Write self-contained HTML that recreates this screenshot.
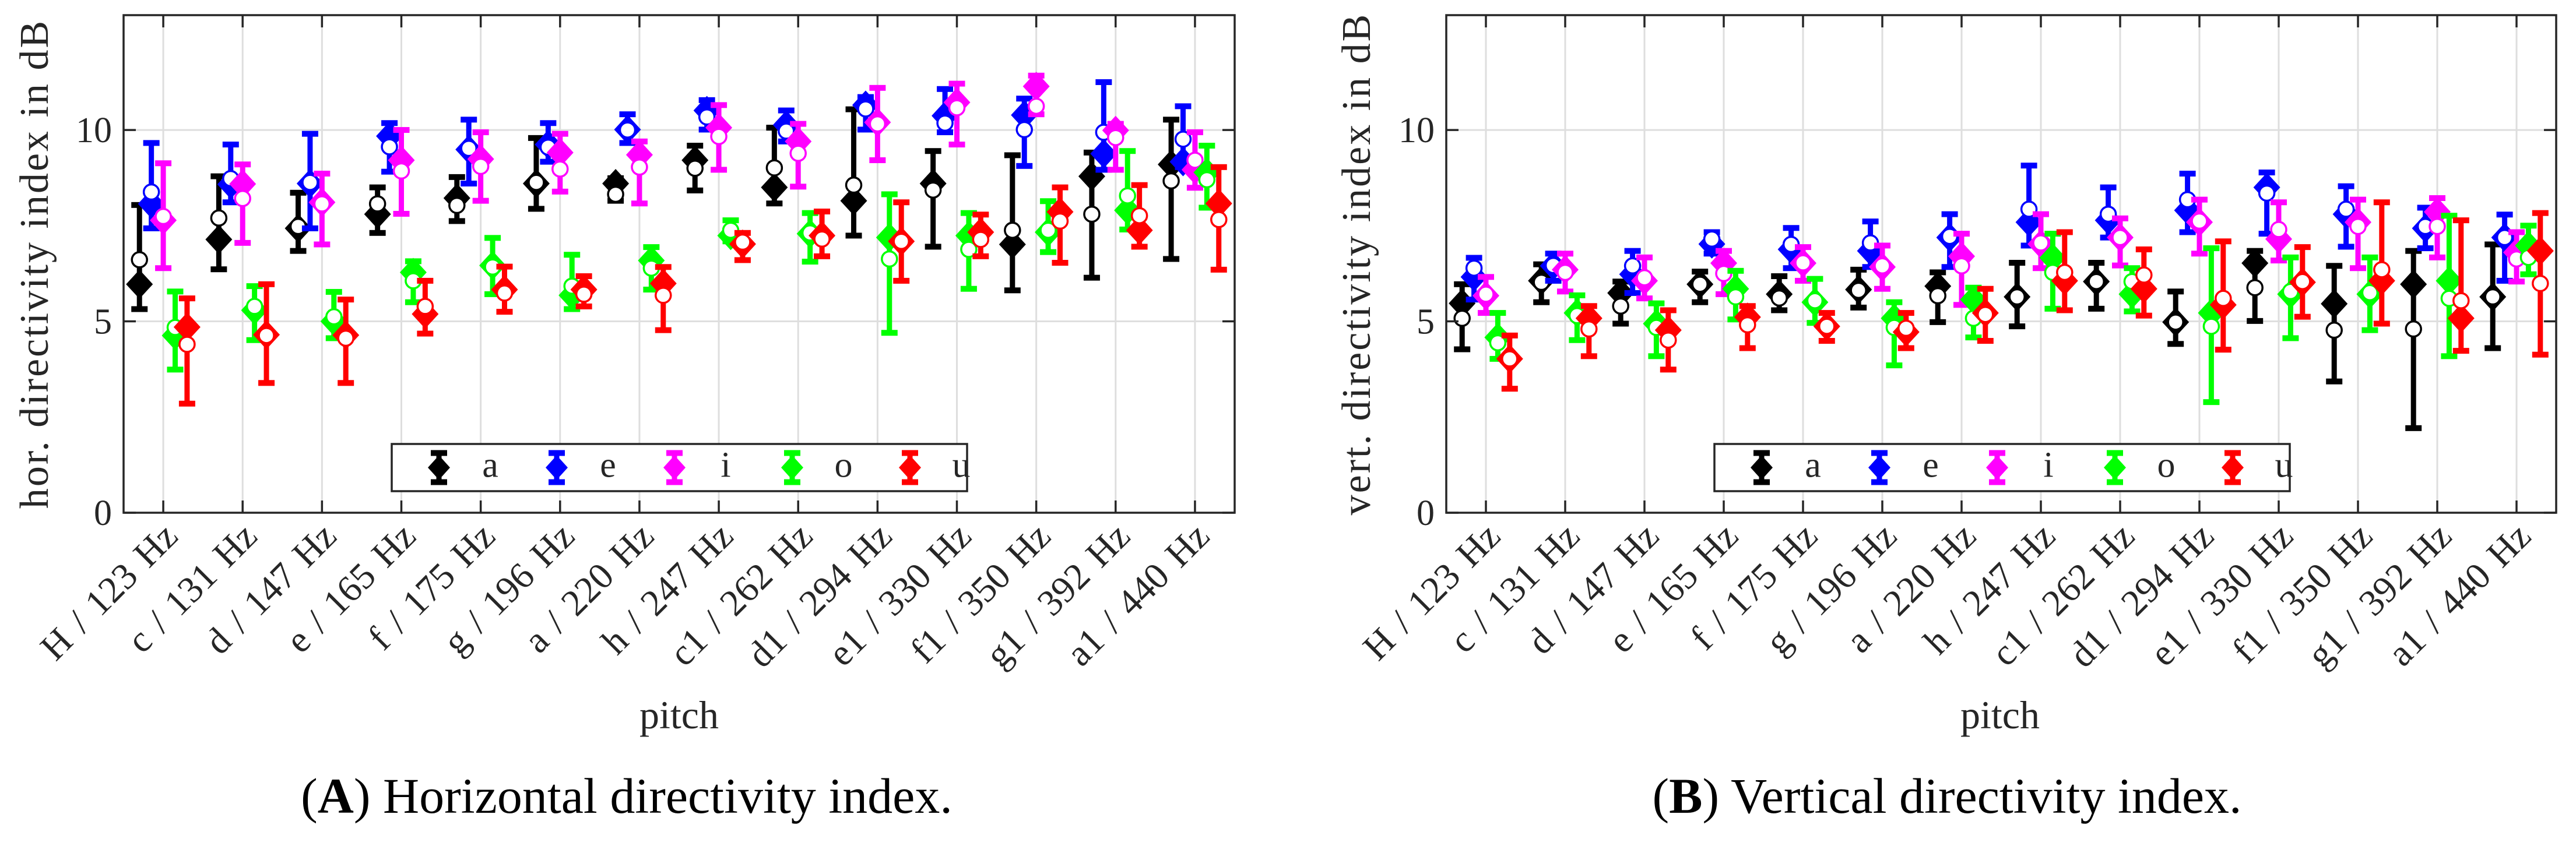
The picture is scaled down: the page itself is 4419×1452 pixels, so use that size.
<!DOCTYPE html>
<html><head><meta charset="utf-8"><style>
html,body{margin:0;padding:0;background:#fff;}
svg{display:block;}
text{font-family:"Liberation Serif",serif;fill:#262626;}
</style></head><body>
<svg id="fig" width="4419" height="1452" viewBox="0 0 4419 1452" xmlns="http://www.w3.org/2000/svg"></svg>
<script>
const categories = ["H / 123 Hz","c / 131 Hz","d / 147 Hz","e / 165 Hz","f / 175 Hz","g / 196 Hz","a / 220 Hz","h / 247 Hz","c1 / 262 Hz","d1 / 294 Hz","e1 / 330 Hz","f1 / 350 Hz","g1 / 392 Hz","a1 / 440 Hz"];
const vowels = ["a","e","i","o","u"];
const yTicks = [0,5,10];

// Horizontal directivity index
const horA_mean = [5.97,7.14,7.43,7.80,8.22,8.60,8.60,9.21,8.50,8.15,8.60,7.01,8.79,9.10];
const horA_circ = [6.61,7.70,7.48,8.07,8.03,8.63,8.32,9.00,9.01,8.56,8.43,7.38,7.80,8.67];
const horA_lo = [5.32,6.36,6.84,7.31,7.62,7.94,8.15,8.42,8.08,7.24,6.95,5.81,6.14,6.63];
const horA_hi = [8.04,8.79,8.36,8.50,8.77,9.79,8.74,9.59,10.06,10.54,9.45,9.34,9.41,10.27];
const horE_mean = [8.07,8.58,8.60,9.84,9.49,9.62,10.01,10.51,10.13,10.65,10.37,10.39,9.38,9.17];
const horE_circ = [8.38,8.73,8.63,9.56,9.52,9.55,10.00,10.34,9.97,10.55,10.18,10.01,9.94,9.76];
const horE_lo = [7.43,8.11,7.43,8.91,8.60,9.17,9.66,10.01,9.70,10.01,9.94,9.06,8.96,9.03];
const horE_hi = [9.66,9.62,9.90,10.18,10.27,10.18,10.41,10.78,10.51,10.86,11.07,10.82,11.25,10.62];
const horI_mean = [7.64,8.59,8.11,9.21,9.24,9.41,9.35,10.06,9.70,10.20,10.72,11.14,9.99,8.96];
const horI_circ = [7.74,8.21,8.07,8.93,9.05,8.98,9.03,9.83,9.39,10.16,10.58,10.62,9.80,9.21];
const horI_lo = [6.39,7.05,7.01,7.81,8.15,8.39,8.08,8.96,8.52,9.21,9.62,10.41,8.96,8.49];
const horI_hi = [9.13,9.10,8.86,10.00,9.94,9.90,9.70,10.65,10.16,11.10,11.21,11.42,10.16,9.94];
const horO_mean = [4.63,5.29,5.00,6.28,6.46,5.68,6.59,7.24,7.29,7.19,7.24,7.33,7.90,8.89];
const horO_circ = [4.84,5.39,5.12,6.06,6.42,5.92,6.39,7.38,7.31,6.63,6.88,7.38,8.28,8.70];
const horO_lo = [3.74,4.51,4.56,5.50,5.71,5.32,5.83,7.09,6.56,4.70,5.85,6.81,7.40,7.97];
const horO_hi = [5.78,5.92,5.77,6.57,7.18,6.74,6.94,7.64,7.83,8.32,7.83,8.14,9.45,9.59];
const horU_mean = [4.85,4.65,4.64,5.19,5.83,5.83,5.99,7.02,7.24,7.09,7.33,7.86,7.38,8.08];
const horU_circ = [4.40,4.63,4.56,5.39,5.74,5.71,5.68,7.07,7.15,7.09,7.14,7.62,7.76,7.66];
const horU_lo = [2.85,3.39,3.39,4.68,5.25,5.39,4.77,6.60,6.70,6.06,6.70,6.53,6.95,6.35];
const horU_hi = [5.60,5.97,5.57,6.06,6.43,6.18,6.42,7.31,7.87,8.11,7.79,8.50,8.56,9.03];

// Vertical directivity index
const verA_mean = [5.47,6.06,5.74,5.97,5.71,5.83,5.92,5.64,6.04,4.98,6.52,5.46,5.97,5.64];
const verA_circ = [5.08,6.02,5.40,5.97,5.61,5.81,5.67,5.64,6.04,4.98,5.88,4.77,4.80,5.64];
const verA_lo = [4.27,5.50,4.94,5.50,5.29,5.36,4.98,4.87,5.33,4.41,5.01,3.43,2.21,4.30];
const verA_hi = [5.97,6.49,6.04,6.30,6.18,6.35,6.28,6.53,6.53,5.78,6.84,6.45,6.84,7.01];
const verE_mean = [6.16,6.45,6.23,7.02,6.88,6.84,7.19,7.59,7.64,7.90,8.50,7.80,7.43,7.19];
const verE_circ = [6.39,6.46,6.45,7.15,7.01,7.05,7.22,7.93,7.80,8.18,8.35,7.93,7.48,7.19];
const verE_lo = [5.57,6.06,5.74,6.77,6.39,6.42,6.42,6.98,7.19,7.33,7.29,6.95,6.91,6.06];
const verE_hi = [6.66,6.77,6.84,7.33,7.44,7.61,7.80,9.07,8.50,8.86,8.89,8.53,7.97,7.79];
const verI_mean = [5.67,6.35,6.06,6.52,6.52,6.42,6.70,7.02,7.19,7.59,7.15,7.59,7.86,6.80];
const verI_circ = [5.71,6.28,6.14,6.25,6.53,6.45,6.45,7.05,7.19,7.62,7.40,7.48,7.48,6.63];
const verI_lo = [5.22,5.78,5.60,5.71,6.06,5.85,5.43,6.39,6.46,6.77,6.59,6.39,6.67,6.04];
const verI_hi = [6.16,6.77,6.67,6.84,6.94,6.98,7.29,7.80,7.69,8.18,8.11,8.18,8.22,7.33];
const verO_mean = [4.58,5.22,4.94,5.85,5.50,5.08,5.57,6.66,5.71,5.22,5.71,5.71,6.06,6.98];
const verO_circ = [4.44,5.15,4.84,5.64,5.54,4.84,5.08,6.28,6.04,4.87,5.78,5.75,5.60,6.67];
const verO_lo = [4.02,4.51,4.09,5.05,4.96,3.85,4.58,5.33,5.26,2.89,4.56,4.77,4.09,6.23];
const verO_hi = [5.22,5.68,5.47,6.32,6.11,5.50,5.88,7.29,6.39,6.91,6.67,6.67,7.76,7.50];
const verU_mean = [4.02,5.08,4.77,5.11,4.87,4.72,5.22,6.06,5.85,5.43,6.02,6.06,5.08,6.84];
const verU_circ = [4.02,4.80,4.51,4.91,4.87,4.82,5.18,6.28,6.21,5.60,6.04,6.35,5.54,5.99];
const verU_lo = [3.24,4.09,3.74,4.30,4.49,4.30,4.49,5.29,5.15,4.26,5.12,4.94,4.23,4.13];
const verU_hi = [4.63,5.40,5.29,5.40,5.22,5.22,5.85,7.33,6.88,7.09,6.94,8.11,7.64,7.83];

const colors = ["#000000","#0000ff","#ff00ff","#00ff00","#ff0000"];
const offsets = [-0.3,-0.15,0,0.15,0.3];
const NS = "http://www.w3.org/2000/svg";
const svg = document.getElementById("fig");

function mk(tag, attrs, parent){
  const e = document.createElementNS(NS, tag);
  for (const k in attrs) e.setAttribute(k, attrs[k]);
  (parent||svg).appendChild(e);
  return e;
}

function drawPanel(cfg){
  const L=cfg.left, R=cfg.right, T=26, B=880;
  const ymax=13;
  const xS = v => L + (v + 0.5) / categories.length * (R - L);
  const yS = v => B - v / ymax * (B - T);
  const g = mk("g", {});
  
  
  categories.forEach((c,i)=>{
    const gl = mk("line",{x1:xS(i),x2:xS(i),y1:T,y2:B,stroke:"#dedede","stroke-width":3},g);
    
    
  });
  yTicks.forEach(t=>{
    if (t===0) return;
    const gl = mk("line",{x1:L,x2:R,y1:yS(t),y2:yS(t),stroke:"#dedede","stroke-width":3},g);
    
    
  });
  const series = cfg.series;
  series.forEach((s, k)=>{
    const sg = mk("g",{},g);
    
    
    const col = colors[k];
    for (let i=0;i<categories.length;i++){
      const x = xS(i + offsets[k]);
      const yl = yS(s.lo[i]), yh = yS(s.hi[i]), ym = yS(s.mean[i]), yc = yS(s.circ[i]);
      const st = mk("line",{x1:x,x2:x,y1:yl,y2:yh,stroke:col,"stroke-width":9},sg);
      
      
      const c1 = mk("rect",{x:x-14,y:yl-5,width:28,height:10,fill:col},sg);
      
      
      const c2 = mk("rect",{x:x-14,y:yh-5,width:28,height:10,fill:col},sg);
      
      
      const d = mk("polygon",{points:`${x},${ym-25} ${x+23},${ym} ${x},${ym+25} ${x-23},${ym}`,fill:col},sg);
      
      
      const ci = mk("circle",{cx:x,cy:yc,r:13,fill:"#fff",stroke:col,"stroke-width":3.5},sg);
      
      
    }
  });
  const box = mk("rect",{x:L,y:T,width:R-L,height:B-T,fill:"none",stroke:"#262626","stroke-width":3.5},g);
  
  
  categories.forEach((c,i)=>{
    const x = xS(i);
    mk("line",{x1:x,x2:x,y1:B,y2:B-21,stroke:"#262626","stroke-width":3.5},g);
    mk("line",{x1:x,x2:x,y1:T,y2:T+21,stroke:"#262626","stroke-width":3.5},g);
    const ax = x+28, ay = B+44;
    const tl = mk("text",{x:ax,y:ay,"font-size":64,"word-spacing":6,"text-anchor":"end",transform:`rotate(-45 ${ax} ${ay})`},g);
    tl.textContent = c;
    
    
  });
  yTicks.forEach(t=>{
    const y=yS(t);
    mk("line",{x1:L,x2:L+21,y1:y,y2:y,stroke:"#262626","stroke-width":3.5},g);
    mk("line",{x1:R,x2:R-21,y1:y,y2:y,stroke:"#262626","stroke-width":3.5},g);
    const tl = mk("text",{x:L-20,y:y+21,"font-size":62,"text-anchor":"end"},g);
    tl.textContent = String(t);
    
    
  });
  const yl = mk("text",{x:cfg.ylabX,y:(T+B)/2,"font-size":70,"text-anchor":"middle",transform:`rotate(-90 ${cfg.ylabX} ${(T+B)/2})`,"letter-spacing":"3"},g);
  yl.textContent = cfg.ylabel;
  
  
  const xl = mk("text",{x:cfg.xlabX,y:1250,"font-size":68,"text-anchor":"middle"},g);
  xl.textContent = "pitch";
  
  
  const lx = L + 460, ly = 762, lw = 987, lh = 81;
  const lg = mk("g",{},g);
  
  
  mk("rect",{x:lx,y:ly,width:lw,height:lh,fill:"#fff",stroke:"#262626","stroke-width":3.5},lg);
  vowels.forEach((v,k)=>{
    const mx = lx + 81 + k*202, my = ly + lh/2;
    const eg = mk("g",{},lg);
    
    
    mk("line",{x1:mx,x2:mx,y1:my-30,y2:my+30,stroke:colors[k],"stroke-width":9},eg);
    mk("rect",{x:mx-14,y:my-30,width:28,height:10,fill:colors[k]},eg);
    mk("rect",{x:mx-14,y:my+20,width:28,height:10,fill:colors[k]},eg);
    mk("polygon",{points:`${mx},${my-21} ${mx+19},${my} ${mx},${my+21} ${mx-19},${my}`,fill:colors[k]},eg);
    const t = mk("text",{x:mx+88,y:my+16,"font-size":62,"text-anchor":"middle"},eg);
    t.textContent = v;
  });
  const cap = mk("text",{x:cfg.capX,y:1395,"font-size":86,"text-anchor":"middle",style:"fill:#000"},g);
  cap.innerHTML = cfg.caption;
  
  
}

drawPanel({name:"horizontal-panel",left:212,right:2118,ylabX:82,xlabX:1165,capX:1075,
  ylabel:"hor.  directivity index in dB",
  caption:'(<tspan font-weight="bold">A</tspan>) Horizontal directivity index.',
  series:[
    {mean:horA_mean,circ:horA_circ,lo:horA_lo,hi:horA_hi},
    {mean:horE_mean,circ:horE_circ,lo:horE_lo,hi:horE_hi},
    {mean:horI_mean,circ:horI_circ,lo:horI_lo,hi:horI_hi},
    {mean:horO_mean,circ:horO_circ,lo:horO_lo,hi:horO_hi},
    {mean:horU_mean,circ:horU_circ,lo:horU_lo,hi:horU_hi}]});
drawPanel({name:"vertical-panel",left:2481,right:4385,ylabX:2350,xlabX:3431,capX:3340,
  ylabel:"vert.  directivity index in dB",
  caption:'(<tspan font-weight="bold">B</tspan>) Vertical directivity index.',
  series:[
    {mean:verA_mean,circ:verA_circ,lo:verA_lo,hi:verA_hi},
    {mean:verE_mean,circ:verE_circ,lo:verE_lo,hi:verE_hi},
    {mean:verI_mean,circ:verI_circ,lo:verI_lo,hi:verI_hi},
    {mean:verO_mean,circ:verO_circ,lo:verO_lo,hi:verO_hi},
    {mean:verU_mean,circ:verU_circ,lo:verU_lo,hi:verU_hi}]});
</script>
</body></html>
